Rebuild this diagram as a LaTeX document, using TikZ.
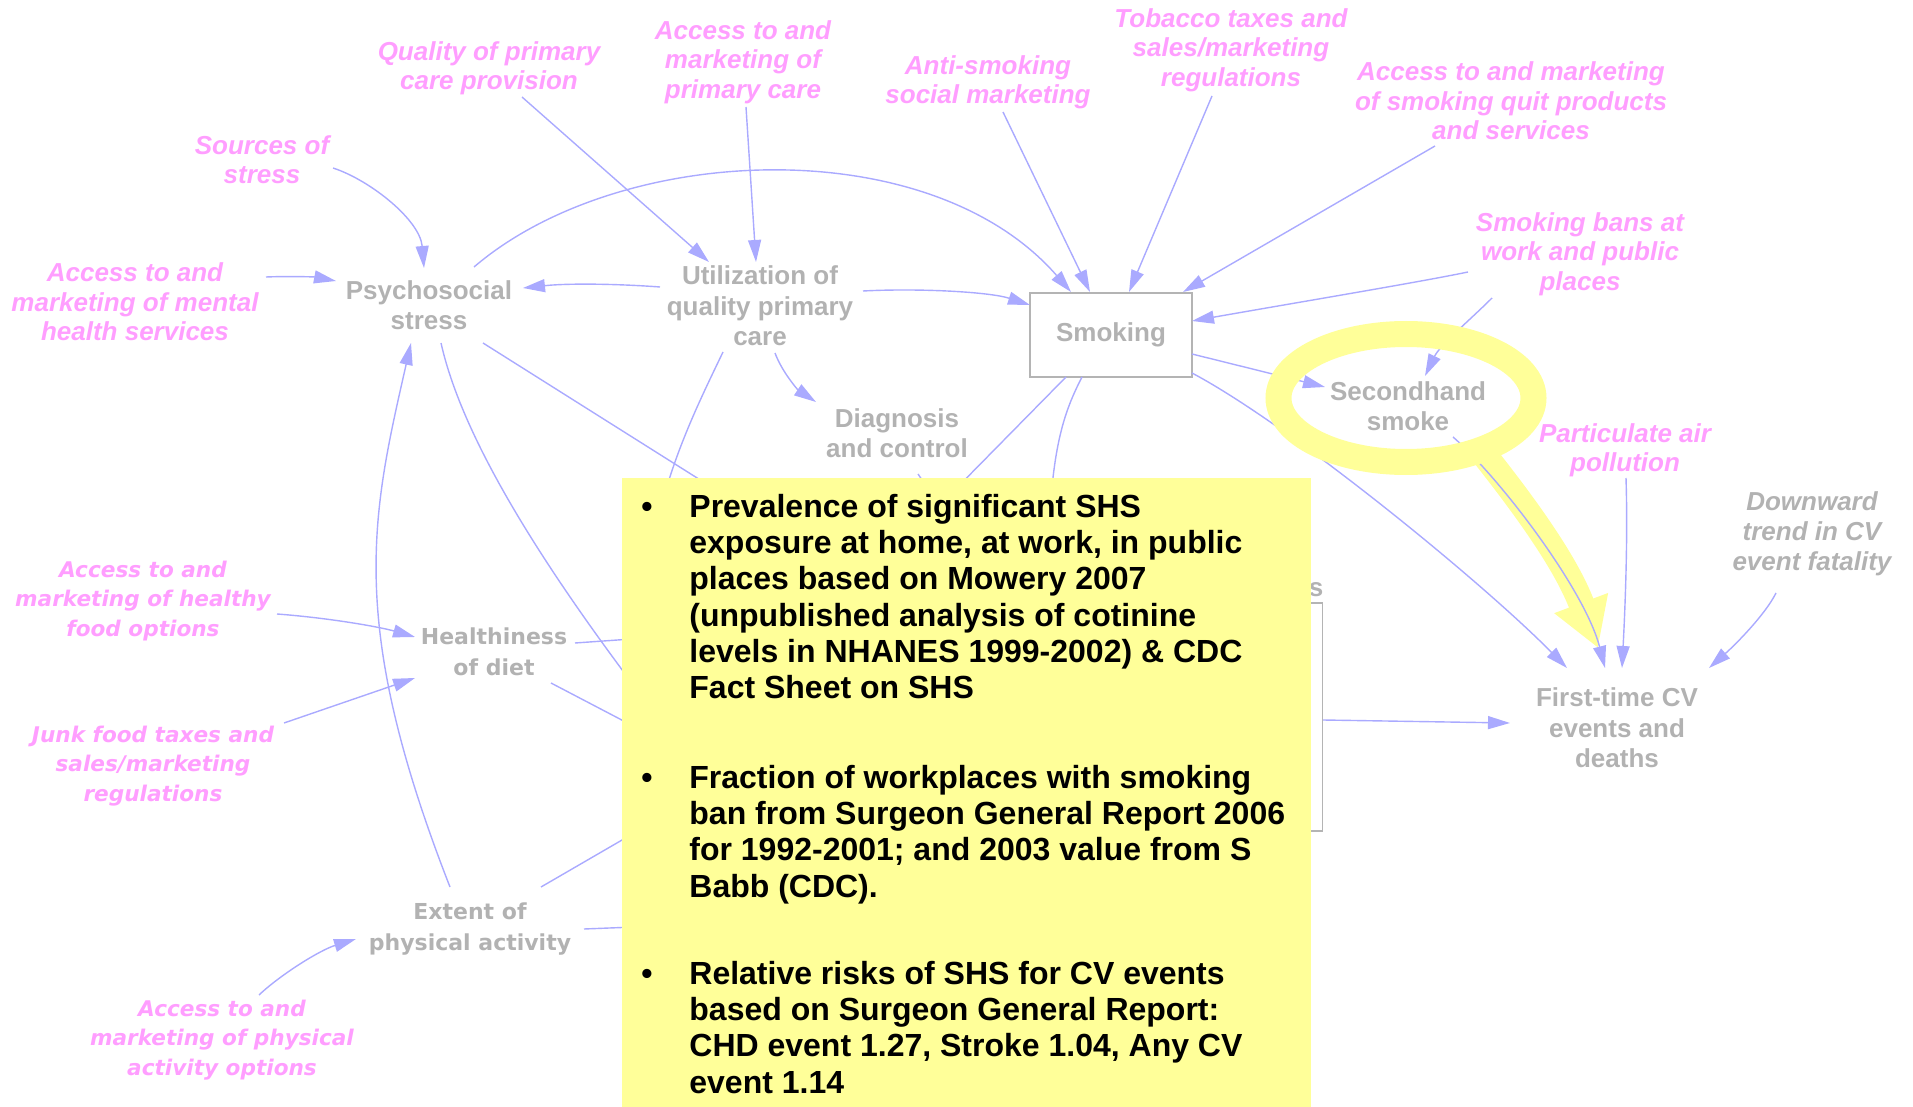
\documentclass[tikz,border=0pt]{standalone}
\usepackage{fontspec}
\setmainfont{Liberation Sans}
\newfontfamily\dvfont{DejaVu Sans}
\usetikzlibrary{arrows.meta,calc}

\definecolor{graytext}{RGB}{178,178,178}
\definecolor{grayline}{RGB}{180,180,180}
\definecolor{pinktext}{RGB}{255,158,255}
\definecolor{linkblue}{RGB}{170,170,255}
\definecolor{noteyellow}{RGB}{255,255,153}

\tikzset{
  gnode/.style={font=\bfseries\fontsize{13}{15.2}\selectfont, text=graytext, align=center, inner sep=0pt},
  gitnode/.style={font=\bfseries\itshape\fontsize{13}{15}\selectfont, text=graytext, align=center, inner sep=0pt},
  pnode/.style={font=\bfseries\itshape\fontsize{13}{14.7}\selectfont, text=pinktext, align=center, inner sep=0pt},
  dnode/.style={font=\dvfont\bfseries\fontsize{11}{15.3}\selectfont, text=graytext, align=center, inner sep=0pt},
  dpnode/.style={font=\dvfont\bfseries\itshape\fontsize{10.8}{14.7}\selectfont, text=pinktext, align=center, inner sep=0pt},
  stockbox/.style={draw=grayline, line width=0.8pt, fill=white},
  link/.style={draw=linkblue, line width=0.7pt, -{Triangle[length=11pt,width=6.5pt]}},
  hiddenlink/.style={draw=linkblue, line width=0.7pt},
  notetext/.style={font=\bfseries\fontsize{16}{18.1}\selectfont, text=black, align=left, inner sep=0pt},
}

\begin{document}
\begin{tikzpicture}[x=0.5pt,y=-0.5pt]
\useasboundingbox (0,0) rectangle (1913,1107);

% ---- variables ----
\node[gnode] (psy) at (429,305) {Psychosocial\\stress};
\node[gnode] (util) at (760,306) {Utilization of\\quality primary\\care};
\node[gnode, stockbox, minimum width=81pt, minimum height=42pt] (smk) at (1111,335) {Smoking};
\node[gnode] (diag) at (897,433) {Diagnosis\\and control};
\node[gnode] (shs) at (1408,406) {Secondhand\\smoke};
\node[gnode] (cv) at (1617,728) {First-time CV\\events and\\deaths};
\node[dnode] (diet) at (494,652) {Healthiness\\of diet};
\node[dnode] (phys) at (470,929) {Extent of\\physical activity};
\node[stockbox, minimum width=86.5pt, minimum height=114pt, inner sep=0pt] (hb) at (1236,717) {};
\node[gnode] (hs) at (1316,590) {s};

% ---- external drivers ----
\node[pnode] (qual) at (489,68) {Quality of primary\\care provision};
\node[pnode] (accpc) at (743,62) {Access to and\\marketing of\\primary care};
\node[pnode] (anti) at (988,82) {Anti-smoking\\social marketing};
\node[pnode] (tob) at (1231,50) {Tobacco taxes and\\sales/marketing\\regulations};
\node[pnode] (quit) at (1511,101) {Access to and marketing\\of smoking quit products\\and services};
\node[pnode] (bans) at (1580,254) {Smoking bans at\\work and public\\places};
\node[pnode] (part) at (1625,450) {Particulate air\\pollution};
\node[pnode] (src) at (262,160) {Sources of\\stress};
\node[pnode] (ment) at (135,302) {Access to and\\marketing of mental\\health services};
\node[gitnode] (down) at (1812,534) {Downward\\trend in CV\\event fatality};
\node[dpnode] (food) at (143,601) {Access to and\\marketing of healthy\\food options};
\node[dpnode] (junk) at (153,766) {Junk food taxes and\\sales/marketing\\regulations};
\node[dpnode] (pact) at (222,1040) {Access to and\\marketing of physical\\activity options};

% ---- highlight arrow (under the links) ----
\draw[noteyellow, line width=13pt, -{Triangle[length=24pt,width=27pt]}]
  (1482,452) .. controls (1520,500) and (1565,560) .. (1598,648);

% ---- links ----
\draw[link] ($(src.center)+(71,8)$) .. controls (370,180) and (420,220) .. ($(psy.center)+(-5,-37)$);
\draw[link] ($(ment.center)+(131,-25)$) .. controls (290,276) and (315,277) .. ($(psy.center)+(-93,-24)$);
\draw[link] ($(qual.center)+(33,29)$) -- ($(util.center)+(-51,-44)$);
\draw[link] ($(accpc.center)+(3,45)$) -- ($(util.center)+(-4,-44)$);
\draw[link] ($(util.center)+(-100,-19)$) .. controls (620,284) and (570,283) .. ($(psy.center)+(94,-17)$);
\draw[link] ($(psy.center)+(45,-38)$) .. controls (620,142) and (930,130) .. ($(smk.center)+(-40,-43)$);
\draw[link] ($(util.center)+(103,-15)$) .. controls (920,288) and (990,292) .. ($(smk.center)+(-81,-30)$);
\draw[link] ($(anti.center)+(15,30)$) -- ($(smk.center)+(-21,-43)$);
\draw[link] ($(tob.center)+(-19,46)$) -- ($(smk.center)+(18,-43)$);
\draw[link] ($(quit.center)+(-76,45)$) -- ($(smk.center)+(72,-43)$);
\draw[link] ($(bans.center)+(-112,18)$) .. controls (1420,282) and (1300,302) .. ($(smk.center)+(81,-14)$);
\draw[link] ($(bans.center)+(-88,44)$) .. controls (1470,320) and (1440,345) .. ($(shs.center)+(17,-30)$);
\draw[link] ($(smk.center)+(81,19)$) -- ($(shs.center)+(-83,-19)$);
\draw[link] ($(smk.center)+(81,38)$) .. controls (1290,425) and (1480,580) .. ($(cv.center)+(-50,-60)$);
\draw[link] ($(shs.center)+(45,31)$) .. controls (1500,478) and (1585,590) .. ($(cv.center)+(-12,-60)$);
\draw[link] ($(part.center)+(1,28)$) .. controls (1628,540) and (1625,610) .. ($(cv.center)+(5,-60)$);
\draw[link] ($(down.center)+(-36,59)$) .. controls (1765,615) and (1735,645) .. ($(cv.center)+(92,-60)$);
\draw[link] ($(hb.center)+(87,3)$) -- ($(cv.center)+(-107,-5)$);
\draw[link] ($(util.center)+(15,47)$) .. controls (782,372) and (798,390) .. ($(diag.center)+(-81,-31)$);
\draw[link] ($(food.center)+(134,13)$) .. controls (330,618) and (380,627) .. ($(diet.center)+(-79,-15)$);
\draw[link] ($(junk.center)+(131,-43)$) -- ($(diet.center)+(-79,26)$);
\draw[link] ($(pact.center)+(37,-45)$) .. controls (280,975) and (320,950) .. ($(phys.center)+(-114,10)$);
\draw[link] ($(phys.center)+(-20,-42)$) .. controls (346,621) and (372,515) .. ($(psy.center)+(-18,38)$);

% links running on under the note
\coordinate (h1) at (660,720);
\coordinate (h2) at (740,505);
\coordinate (h3) at (656,530);
\coordinate (h4) at (940,505);
\coordinate (h5) at (1050,510);
\coordinate (h6) at (930,492);
\coordinate (h7) at (660,637);
\coordinate (h8) at (660,740);
\coordinate (h9) at (660,818);
\coordinate (h10) at (660,926);
\draw[hiddenlink] ($(psy.center)+(12,38)$) .. controls (465,450) and (560,590) .. (h1);
\draw[hiddenlink] ($(psy.center)+(54,38)$) -- (h2);
\draw[hiddenlink] ($(util.center)+(-37,46)$) .. controls (700,400) and (670,460) .. (h3);
\draw[hiddenlink] ($(smk.center)+(-45,42)$) -- (h4);
\draw[hiddenlink] ($(smk.center)+(-29,42)$) .. controls (1065,410) and (1055,440) .. (h5);
\draw[hiddenlink] ($(diag.center)+(21,41)$) -- (h6);
\draw[hiddenlink] ($(diet.center)+(81,-9)$) -- (h7);
\draw[hiddenlink] ($(diet.center)+(57,31)$) -- (h8);
\draw[hiddenlink] ($(phys.center)+(71,-42)$) -- (h9);
\draw[hiddenlink] ($(phys.center)+(114,0)$) -- (h10);

% ---- highlight ring around secondhand smoke ----
\draw[noteyellow, line width=13pt] (shs.center) ++(-2,-8) ellipse [x radius=63.75pt, y radius=32pt];

% ---- note ----
\fill[noteyellow] (622,478) rectangle (1311,1107);
\node[notetext, anchor=base] (b1) at (647,517) {\textbullet};
\node[notetext, anchor=north west] (p1) at (689,494)
  {Prevalence of significant SHS\\exposure at home, at work, in public\\places based on Mowery 2007\\(unpublished analysis of cotinine\\levels in NHANES 1999-2002) \& CDC\\Fact Sheet on SHS};
\node[notetext, anchor=base] (b2) at (647,788) {\textbullet};
\node[notetext, anchor=north west] (p2) at (689,765)
  {Fraction of workplaces with smoking\\ban from Surgeon General Report 2006\\for 1992-2001; and 2003 value from S\\Babb (CDC).};
\node[notetext, anchor=base] (b3) at (647,984) {\textbullet};
\node[notetext, anchor=north west] (p3) at (689,961)
  {Relative risks of SHS for CV events\\based on Surgeon General Report:\\CHD event 1.27, Stroke 1.04, Any CV\\event 1.14};
\end{tikzpicture}
\end{document}
